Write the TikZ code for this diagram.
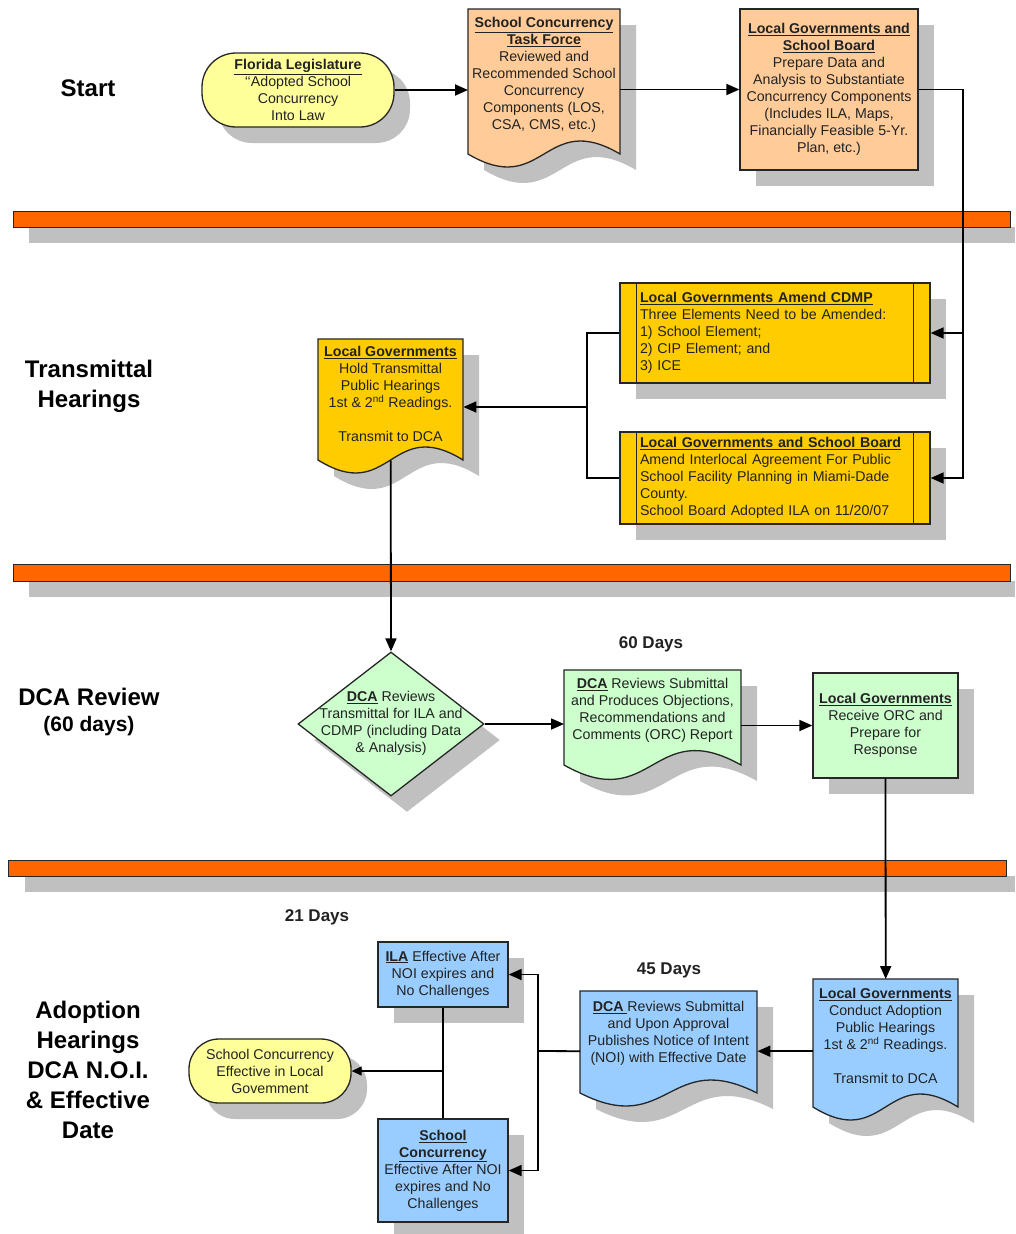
\documentclass[tikz,border=0pt]{standalone}
\usepackage{fontspec}
\setmainfont{Liberation Sans}
\usetikzlibrary{shapes.geometric,arrows.meta,shadows,calc}
\definecolor{yellowc}{HTML}{FFFF99}
\definecolor{peachc}{HTML}{FFCC99}
\definecolor{goldc}{HTML}{FFCC00}
\definecolor{greenc}{HTML}{CCFFCC}
\definecolor{bluec}{HTML}{99CCFF}
\definecolor{orangec}{HTML}{FF6600}
\definecolor{shadowc}{HTML}{C0C0C0}
\definecolor{txtc}{HTML}{222222}
\definecolor{edgec}{HTML}{262626}
\newcommand\txtsize{\fontsize{14.2}{17}\selectfont}
\newcommand\hd[1]{\underline{\textbf{#1}}}
% name, L, T, R, B, d, fill
\newcommand\docshape[7]{%
  \fill[shadowc, shift={(16,16)}] (#2,#3) -- (#4,#3) -- (#4,#5) .. controls ({(#2+#4)/2},{#5-#6}) and ({(#2+#4)/2},{#5+#6}) .. (#2,#5) -- cycle;
  \draw[shp, fill=#7] (#2,#3) -- (#4,#3) -- (#4,#5) .. controls ({(#2+#4)/2},{#5-#6}) and ({(#2+#4)/2},{#5+#6}) .. (#2,#5) -- cycle;
  \node[anchor=north west, minimum width={#4-#2}, minimum height={#5-#3}, inner sep=0pt, draw=none] (#1) at (#2,#3) {};
}
\begin{document}
\begin{tikzpicture}[x=1pt,y=-1pt,
  shp/.style={draw=edgec, line width=1.3pt},
  shd/.style={drop shadow={shadow xshift=16pt,shadow yshift=-16pt,fill=shadowc,opacity=1}},
  txt/.style={font=\txtsize, text=txtc, align=center, inner sep=0pt},
  box/.style={shp, shd, rectangle, font=\txtsize, text=txtc, align=center, inner sep=1pt},
  arr/.style={draw=black, line width=1.8pt, -{Triangle[length=13pt,width=11pt]}},
  ln/.style={draw=black, line width=1.8pt},
  tarr/.style={draw=black, line width=1.2pt, -{Triangle[length=10pt,width=9pt]}},
  tln/.style={draw=black, line width=1.2pt},
  lane/.style={font=\fontsize{24}{30}\selectfont\bfseries, text=black, align=center, inner sep=0pt},
  days/.style={font=\fontsize{17}{20}\selectfont\bfseries, text=txtc, inner sep=0pt},
  barstyle/.style={draw=edgec, line width=1pt, fill=orangec}
]
\fill[white] (0,0) rectangle (1015,1234);
\useasboundingbox (0,0) rectangle (1015,1234);

% lane bars
\fill[shadowc] (29,227) rectangle (1015,243);
\draw[barstyle] (13,211) rectangle (1010,227);
\fill[shadowc] (29,581) rectangle (1015,597);
\draw[barstyle] (13,564) rectangle (1010,581);
\fill[shadowc] (25,876) rectangle (1015,892);
\draw[barstyle] (8,860) rectangle (1006,876);

% lane labels
\node[lane] (l1) at (88,88) {Start};
\node[lane] (l2) at (89,386) {Transmittal\\Hearings};
\node[lane] (l3) at (89,697) {DCA Review};
\node[lane, font=\fontsize{21}{25}\selectfont\bfseries] (l3b) at (89,726) {(60 days)};
\node[lane] (l4) at (88,1070) {Adoption\\Hearings\\DCA N.O.I.\\\& Effective\\Date};

% day labels
\node[days] (d60) at (651,644) {60 Days};
\node[days] (d21) at (317,917) {21 Days};
\node[days] (d45) at (669,970) {45 Days};

% start lane
\node[box, fill=yellowc, rounded corners=34pt, minimum width=192, minimum height=74, inner sep=0pt] (fl) at (298,90)
  {\hd{Florida Legislature}\\\char"2018\char"2018\relax Adopted School\\Concurrency\\Into Law};
\docshape{tf}{468}{9}{620}{154}{45}{peachc}
\node[txt] (tft) at (544,75) {\hd{School Concurrency}\\\hd{Task Force}\\Reviewed and\\Recommended School\\Concurrency\\Components (LOS,\\CSA, CMS, etc.)};
\node[box, fill=peachc, minimum width=178, minimum height=161] (lgsb) at (829,89.5)
  {\hd{Local Governments and}\\\hd{School Board}\\Prepare Data and\\Analysis to Substantiate\\Concurrency Components\\(Includes ILA, Maps,\\Financially Feasible 5-Yr.\\Plan, etc.)};

% transmittal lane
\node[box, fill=goldc, minimum width=310, minimum height=100, text width=270, inner xsep=20pt, align=left] (cdmp) at (775,333)
  {\hd{Local Governments Amend CDMP}\\Three Elements Need to be Amended:\\1) School Element;\\2) CIP Element; and\\3) ICE};
\draw[shp] ([xshift=17pt]cdmp.north west) -- ([xshift=17pt]cdmp.south west);
\draw[shp] ([xshift=-17pt]cdmp.north east) -- ([xshift=-17pt]cdmp.south east);
\node[box, fill=goldc, minimum width=310, minimum height=92, text width=270, inner xsep=20pt, align=left] (ila) at (775,478)
  {\hd{Local Governments and School Board}\\Amend Interlocal Agreement For Public\\School Facility Planning in Miami-Dade\\County.\\School Board Adopted ILA on 11/20/07};
\draw[shp] ([xshift=17pt]ila.north west) -- ([xshift=17pt]ila.south west);
\draw[shp] ([xshift=-17pt]ila.north east) -- ([xshift=-17pt]ila.south east);
\docshape{lgt}{318}{339}{463}{460}{45}{goldc}
\node[txt] (lgtt) at (390.5,394) {\hd{Local Governments}\\Hold Transmittal\\Public Hearings\\1st \& 2\textsuperscript{nd} Readings.\\[17pt]Transmit to DCA};

% DCA review lane
\node[shp, shd, diamond, fill=greenc, minimum width=186, minimum height=144, inner sep=0pt] (dca1) at (391,724) {};
\node[txt] (dca1t) at (391,723) {\hd{DCA} Reviews\\Transmittal for ILA and\\CDMP (including Data\\\& Analysis)};
\docshape{orc}{564}{670}{741}{765}{50}{greenc}
\node[txt] (orct) at (652.5,710) {\hd{DCA} Reviews Submittal\\and Produces Objections,\\Recommendations and\\Comments (ORC) Report};
\node[box, fill=greenc, minimum width=145, minimum height=105] (lgorc) at (885.5,725.5)
  {\hd{Local Governments}\\Receive ORC and\\Prepare for\\Response};

% adoption lane
\docshape{lgad}{813}{979}{958}{1107}{45}{bluec}
\node[txt] (lgadt) at (885.5,1036) {\hd{Local Governments}\\Conduct Adoption\\Public Hearings\\1st \& 2\textsuperscript{nd} Readings.\\[17pt]Transmit to DCA};
\docshape{noi}{580}{991}{757}{1093}{45}{bluec}
\node[txt] (noit) at (668.5,1033.5) {\hd{DCA\ }Reviews Submittal\\and Upon Approval\\Publishes Notice of Intent\\(NOI) with Effective Date};
\node[box, fill=bluec, minimum width=130, minimum height=65] (ilae) at (443,974.5)
  {\hd{ILA} Effective After\\NOI expires and\\No Challenges};
\node[box, fill=bluec, minimum width=130, minimum height=103] (sce) at (443,1170.5)
  {\hd{School}\\\hd{Concurrency}\\Effective After NOI\\expires and No\\Challenges};
\node[box, fill=yellowc, rounded corners=30pt, minimum width=162, minimum height=64, inner sep=0pt] (scl) at (270,1071)
  {School Concurrency\\Effective in Local\\Govemment};

% connectors
\draw[arr] (fl.east) -- (fl.east -| tf.west);
\draw[arr] (lgsb.west -| tf.east) -- (lgsb.west);
\draw[arr] (lgsb.east) -- ++(44,0) |- (cdmp.east);
\draw[arr] (lgsb.east) -- ++(44,0) |- (ila.east);
\coordinate (j2) at (587,407);
\draw[ln] (cdmp.west) -| (j2) |- (ila.west);
\draw[arr] (j2) -- (j2 -| lgt.east);
\draw[arr] (lgt.south) -- (dca1.north);
\draw[arr] (dca1.east) -- (dca1.east -| orc.west);
\draw[arr] (lgorc.west -| orc.east) -- (lgorc.west);
\draw[arr] (lgorc.south) -- (lgad.north);
\draw[arr] ([yshift=-8pt]lgad.west) -- ([yshift=-8pt]lgad.west -| noi.east);
\coordinate (j3) at (538,1051);
\draw[ln] ([yshift=-9pt]noi.west) -- (j3);
\draw[arr] (j3) |- (ilae.east);
\draw[arr] (j3) |- (sce.east);
\draw[tln] (ilae.south) -- (sce.north);
\coordinate (j4) at (443,1071);
\draw[tarr] (j4) -- (j4 -| scl.east);
\end{tikzpicture}
\end{document}
